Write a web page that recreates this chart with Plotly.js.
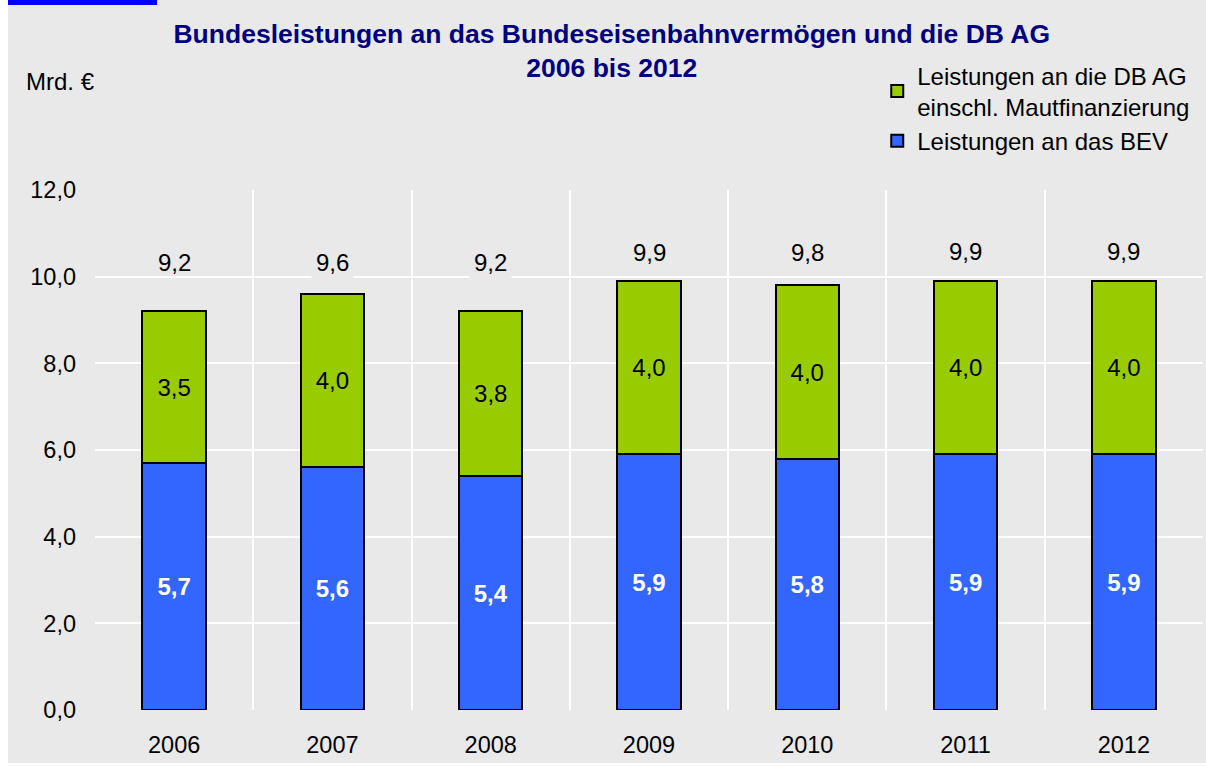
<!DOCTYPE html>
<html><head><meta charset="utf-8">
<script src="https://cdn.plot.ly/plotly-3.0.1.min.js"></script>
<style>
html,body{margin:0;padding:0;background:#ffffff;}
#chart{position:absolute;left:8px;top:0;width:1198px;height:763px;}
</style></head>
<body><div id="chart"></div>
<script>
const years = [2006, 2007, 2008, 2009, 2010, 2011, 2012];
const bev = [5.7, 5.6, 5.4, 5.9, 5.8, 5.9, 5.9];
const dbag = [3.5, 4.0, 3.8, 4.0, 4.0, 4.0, 4.0];
const totals = [9.2, 9.6, 9.2, 9.9, 9.8, 9.9, 9.9];
const labelY = [10.32, 10.32, 10.32, 10.56, 10.56, 10.58, 10.58];

const fmt = v => v.toFixed(1).replace('.', ',');
const font = 'Liberation Sans, Arial, sans-serif';
const bg = '#e9e9e9';

const traces = [
  {type:'bar', name:'Leistungen an das BEV', x:years, y:bev,
   marker:{color:'#3366ff', line:{color:'#000000', width:2}},
   text:bev.map(fmt), textposition:'inside', insidetextanchor:'middle',
   textfont:{family:font, size:24, color:'#ffffff', weight:'bold'},
   width:0.4, hoverinfo:'skip'},
  {type:'bar', name:'Leistungen an die DB AG<br>einschl. Mautfinanzierung', x:years, y:dbag,
   marker:{color:'#99cc00', line:{color:'#000000', width:2}},
   text:dbag.map(fmt), textposition:'inside', insidetextanchor:'middle',
   textfont:{family:font, size:24, color:'#000000'},
   width:0.4, hoverinfo:'skip'}
];

const annotations = years.map((yr, i) => ({
  x: yr, y: labelY[i], xref:'x', yref:'y', text: fmt(totals[i]), showarrow:false,
  font:{family:font, size:24, color:'#000000'},
  bgcolor: (i === 1 || i === 2) ? bg : 'rgba(0,0,0,0)', borderpad:4
}));
annotations.push({x:-0.064, xref:'paper', y:1.208, yref:'paper', xanchor:'left', yanchor:'middle',
  text:'Mrd. €', showarrow:false, font:{family:font, size:24, color:'#000000'}});

const layout = {
  width:1198, height:763,
  paper_bgcolor:bg, plot_bgcolor:bg,
  margin:{l:87, r:3, t:190, b:53},
  barmode:'stack',
  separators:',.',
  font:{family:font, size:24, color:'#000000'},
  title:{text:'<b>Bundesleistungen an das Bundeseisenbahnvermögen und die DB AG<br>2006 bis 2012</b>',
    font:{family:font, size:26.5, color:'#000080'}, xref:'container', x:0.504, xanchor:'center',
    yref:'container', y:0.944, yanchor:'top'},
  xaxis:{range:[2005.5, 2012.5], tickmode:'array', tickvals:years, ticktext:years.map(String),
    showgrid:false, zeroline:false, showline:false, ticks:'', ticklabelstandoff:18,
    tickfont:{family:font, size:23.5, color:'#000000'},
    minor:{tick0:2005.5, dtick:1, showgrid:true, gridcolor:'#ffffff', gridwidth:2, ticks:''}},
  yaxis:{range:[0, 12], tickmode:'linear', tick0:0, dtick:2, tickformat:'.1f',
    showgrid:true, gridcolor:'#ffffff', gridwidth:2, zeroline:false, showline:false, ticks:'',
    ticklabelstandoff:18, tickfont:{family:font, size:23.5, color:'#000000'}},
  legend:{traceorder:'reversed', x:0.993, xanchor:'right', y:1.263, yanchor:'top',
    bgcolor:'rgba(0,0,0,0)', font:{family:font, size:24, color:'#000000'},
    itemwidth:30, tracegroupgap:0},
  shapes:[{type:'rect', xref:'paper', yref:'paper', x0:-0.0785, x1:0.056, y0:1.356, y1:1.37,
    fillcolor:'#0000ff', line:{width:0}}],
  annotations:annotations,
  showlegend:true
};

Plotly.newPlot('chart', traces, layout, {displayModeBar:false, staticPlot:true});
</script></body></html>
